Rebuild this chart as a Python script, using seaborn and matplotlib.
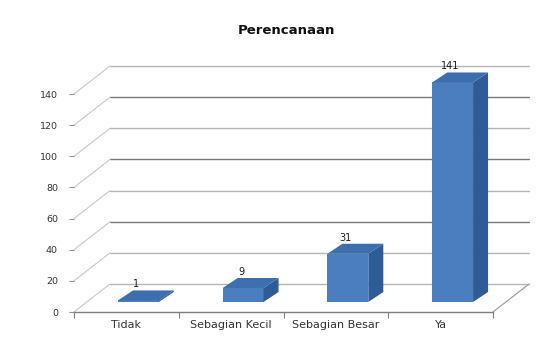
import numpy as np
import pandas as pd
import matplotlib
matplotlib.use("Agg")
import matplotlib.pyplot as plt
import seaborn as sns
from matplotlib.lines import Line2D
from matplotlib.patches import Polygon
from matplotlib.transforms import IdentityTransform, offset_copy

# ---------------- data ----------------
categories = ["Tidak", "Sebagian Kecil", "Sebagian Besar", "Ya"]
values = [1, 9, 31, 141]
y_ticks = [0, 20, 40, 60, 80, 100, 120, 140]
title = "Perencanaan"

sns.set_theme(style="white")
plt.rcParams["font.family"] = ["DejaVu Sans"]

W, H = 547, 347
fig = plt.figure(figsize=(W / 100, H / 100), dpi=100)
fig.patch.set_facecolor("white")

# front plane of the 3D box
x0, x1 = 74, 493
ybase = 312
ppu = 1.557
ymax = 150
ax = fig.add_axes([x0 / W, (H - ybase) / H, (x1 - x0) / W, ymax * ppu / H])
ax.patch.set_alpha(0)

df = pd.DataFrame({"cat": categories, "val": values})
sns.barplot(data=df, x="cat", y="val", ax=ax, color="#4a7ebf", width=0.39,
            saturation=1, edgecolor="none", zorder=3)
ax.set_xlim(-0.5, len(categories) - 0.5)
ax.set_ylim(0, ymax)
ax.set_xlabel("")
ax.set_ylabel("")
for s in ax.spines.values():
    s.set_visible(False)
ax.spines["bottom"].set_visible(True)
ax.spines["bottom"].set_color("#7f7f7f")
ax.spines["bottom"].set_linewidth(1.0)

# offsets (pixels) for depth
bar_dx, bar_dy = 12, 10
depth_dx, depth_dy = 15, 10
wall_dx, wall_dy = 36, 28
bar_trans = offset_copy(ax.transData, fig=fig, x=bar_dx, y=bar_dy, units="dots")


def disp(x, y, dx=0, dy=0):
    px, py = ax.transData.transform((x, y))
    return px + dx, py + dy


def pline(p, q, color, lw=0.8, z=0.5, ls="-"):
    ln = Line2D([p[0], q[0]], [p[1], q[1]], transform=IdentityTransform(),
                color=color, lw=lw, zorder=z, clip_on=False, linestyle=ls)
    ax.add_line(ln)


# back wall gridlines and left wall diagonals
xl, xr = -0.5, len(categories) - 0.5
for v in y_ticks:
    col = "#7a7a7a" if v in (40, 80, 120) else "#b5b5b5"
    pline(disp(xl, v, wall_dx, wall_dy), disp(xr, v, wall_dx, wall_dy), col, lw=1.0)
    pline(disp(xl, v), disp(xl, v, wall_dx, wall_dy), "#c8c8c8", lw=0.8)
# floor right edge
pline(disp(xr, 0), disp(xr, 0, wall_dx, wall_dy), "#a0a0a0", lw=0.9)

# 3D bar faces
side_col = "#2f5c96"
top_col = "#3e6eae"
bars = list(ax.patches)
for p, v in zip(bars, values):
    p.set_transform(bar_trans)
    bx, bw, bh = p.get_x(), p.get_width(), p.get_height()
    fr = disp(bx + bw, 0, bar_dx, bar_dy)
    tl = disp(bx, bh, bar_dx, bar_dy)
    tr = disp(bx + bw, bh, bar_dx, bar_dy)
    d = (depth_dx, depth_dy)
    side = [fr, tr, (tr[0] + d[0], tr[1] + d[1]), (fr[0] + d[0], fr[1] + d[1])]
    top = [tl, tr, (tr[0] + d[0], tr[1] + d[1]), (tl[0] + d[0], tl[1] + d[1])]
    ax.add_patch(Polygon(side, closed=True, transform=IdentityTransform(),
                         facecolor=side_col, edgecolor="none", zorder=3, clip_on=False))
    ax.add_patch(Polygon(top, closed=True, transform=IdentityTransform(),
                         facecolor=top_col, edgecolor="none", zorder=3, clip_on=False))
    ax.annotate(str(v), xy=(bx + bw / 2, bh), xycoords=bar_trans,
                xytext=(-2, 11), textcoords="offset pixels",
                ha="center", va="bottom", fontsize=7, color="#1a1a1a", zorder=4)

# ticks
ax.set_yticks(y_ticks)
ax.set_yticklabels([str(t) for t in y_ticks])
ax.tick_params(axis="y", left=True, length=3.6, width=0.8, color="#909090",
               pad=8, labelsize=6.8, labelcolor="#333333")
ax.set_xticks(range(len(categories)))
ax.set_xticklabels(categories)
ax.set_xticks([i - 0.5 for i in range(len(categories) + 1)], minor=True)
ax.tick_params(axis="x", which="major", bottom=False, length=0, pad=6,
               labelsize=8, labelcolor="#333333")
ax.tick_params(axis="x", which="minor", bottom=True, length=4, width=0.8,
               color="#7f7f7f")

fig.text(286 / W, 1 - 31 / H, title, ha="center", va="center",
         fontsize=9.5, fontweight="bold", color="#111111")

fig.savefig("out.png", dpi=100)
